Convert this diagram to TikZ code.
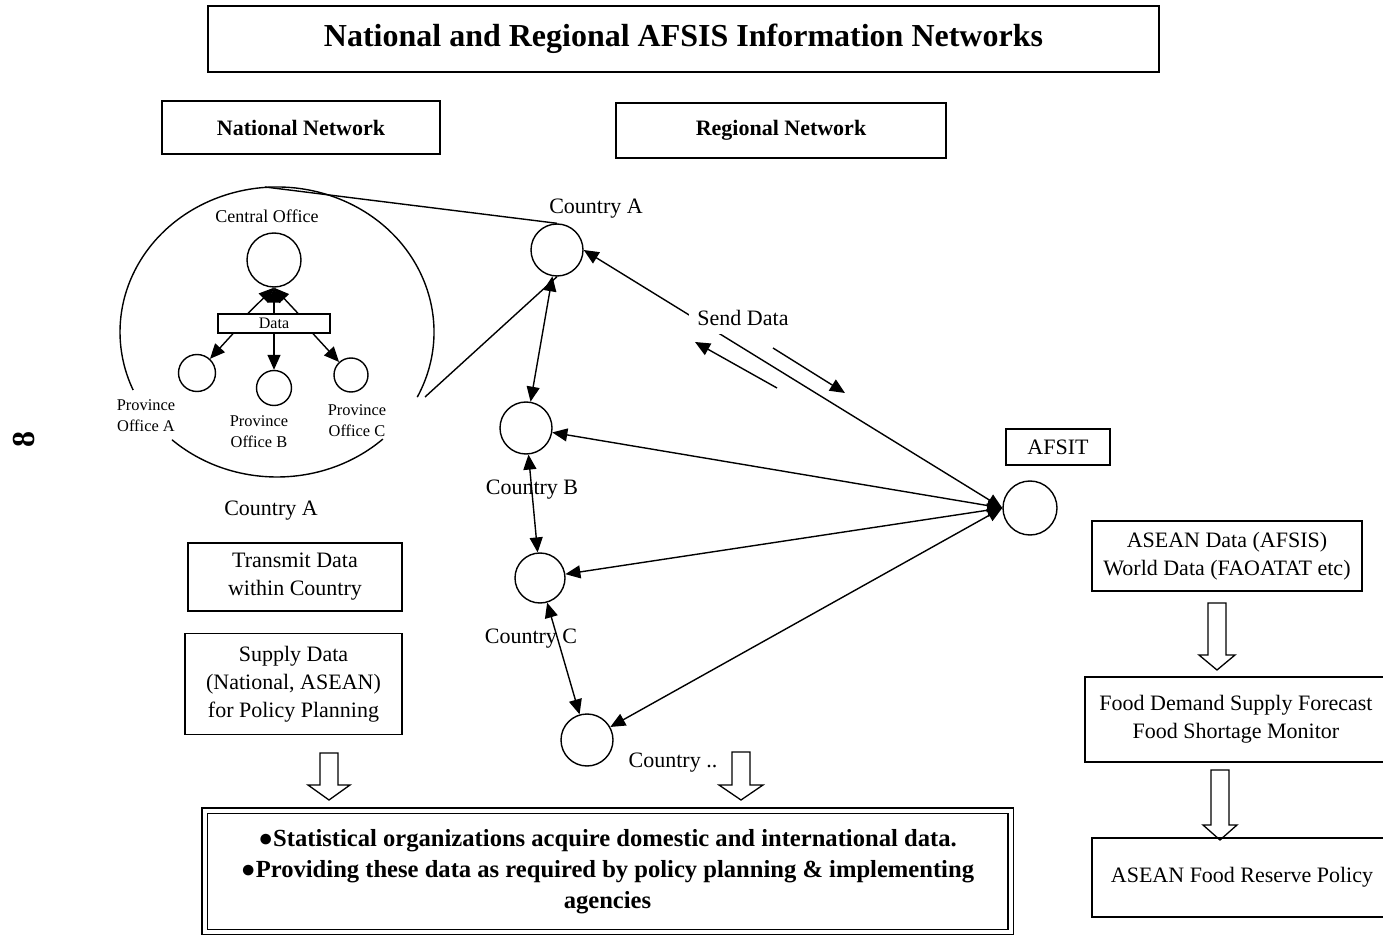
\documentclass[tikz,border=0pt]{standalone}
\usepackage{fontspec}
\setmainfont{Liberation Serif}
\usetikzlibrary{arrows.meta}
\tikzset{
	headbox/.style={draw, line width=1pt, inner sep=0pt,
		font=\fontsize{11}{14}\selectfont\bfseries},
	infobox/.style={draw, line width=0.65pt, align=center, inner sep=0pt,
		font=\fontsize{11}{14}\selectfont},
	office/.style={draw, circle, line width=0.7pt, inner sep=0pt},
	lbl/.style={inner sep=0pt, font=\fontsize{11}{14}\selectfont},
	provlbl/.style={align=center, inner sep=0pt,
		font=\fontsize{8.2}{10.5}\selectfont},
	arr/.style={line width=0.7pt, -{Triangle[length=7.5pt,width=6.5pt]}},
	biarr/.style={line width=0.7pt,
		{Triangle[length=7.5pt,width=6.5pt]}-{Triangle[length=7.5pt,width=6.5pt]}},
	pics/hollow/.style 2 args={code={
		\draw[line width=0.65pt, fill=white] (-9,0) -- (-9,-#1) -- (-#2,-#1)
		-- (0,-#1-15) -- (#2,-#1) -- (9,-#1) -- (9,0) -- cycle;}}
}

\begin{document}
\begin{tikzpicture}[x=0.5pt, y=0.5pt]
	\path[use as bounding box, clip] (0,0) rectangle (1383,-936);

	\node[rotate=90, font=\fontsize{16}{19}\selectfont\bfseries] (pageno) at (24,-440) {8};

	\node[headbox, font=\fontsize{16}{19}\selectfont\bfseries, minimum width=475.5pt,
		minimum height=33pt] (title) at (683.5,-39) {National and Regional AFSIS Information Networks};
	\node[headbox, minimum width=139pt, minimum height=26.5pt] (natnet) at (301,-127.5) {National Network};
	\node[headbox, minimum width=165pt, minimum height=27.5pt] (regnet) at (781,-130.5) {Regional Network};

	% national network
	\draw[line width=0.7pt] (277,-332) ++(-26.7:157 and 145)
		arc[start angle=-26.7, end angle=203.6, x radius=157, y radius=145];
	\draw[line width=0.7pt] (277,-332) ++(228:157 and 145)
		arc[start angle=228, end angle=312.4, x radius=157, y radius=145];
	\node[lbl, font=\fontsize{9}{11}\selectfont] (cenlbl) at (267,-216) {Central Office};
	\node[office, minimum size=27pt] (cen) at (274,-260) {};
	\node[draw, line width=0.65pt, minimum width=56pt, minimum height=9.5pt, inner sep=0pt,
		font=\fontsize{8}{9}\selectfont] (dat) at (274,-323.5) {Data};
	\node[office, minimum size=18.5pt] (pa) at (197,-373) {};
	\node[office, minimum size=17.5pt] (pb) at (274,-388) {};
	\node[office, minimum size=17pt] (pc) at (351,-375) {};
	\node[provlbl] (palbl) at (146,-416) {Province\\Office A};
	\node[provlbl] (pblbl) at (259,-432) {Province\\Office B};
	\node[provlbl] (pclbl) at (357,-421) {Province\\Office C};
	\draw[arr] ([xshift=-13pt]dat.north) -- (cen.south);
	\draw[arr] (dat.north) -- (cen.south);
	\draw[arr] ([xshift=12pt]dat.north) -- (cen.south);
	\draw[arr] ([xshift=-20.5pt]dat.south) -- (pa);
	\draw[arr] (dat.south) -- (pb);
	\draw[arr] ([xshift=19.5pt]dat.south) -- (pc);

	\node[lbl] (ctrylbl) at (271,-511) {Country A};
	\node[infobox, minimum width=107pt, minimum height=34pt] (trans) at (295,-577)
		{Transmit Data\\within Country};
	\node[infobox, minimum width=108.5pt, minimum height=50.5pt] (supply) at (293.5,-684)
		{Supply Data\\(National, ASEAN)\\for Policy Planning};
	\pic at (329,-753) {hollow={32}{21}};

	% regional network
	\node[office, minimum size=26pt] (ca) at (557,-250) {};
	\node[office, minimum size=26pt] (cb) at (526,-428) {};
	\node[office, minimum size=25pt] (cc) at (540,-578) {};
	\node[office, minimum size=26pt] (cd) at (587,-740) {};
	\node[office, minimum size=27pt] (afsit) at (1030,-508) {};
	\node[lbl] (calbl) at (596,-209) {Country A};
	\node[lbl] (cblbl) at (532,-490) {Country B};
	\node[lbl] (cclbl) at (531,-639) {Country C};
	\node[lbl] (cdlbl) at (673,-763) {Country ..};
	\node[draw, line width=0.65pt, minimum width=52pt, minimum height=18pt, lbl] (afsitlbl)
		at (1058,-447) {AFSIT};

	\coordinate (ringtop) at (265,-187);
	\coordinate (ringlow) at (425,-397);
	\draw[line width=0.7pt] (ringtop) -- (ca.north);
	\draw[line width=0.7pt] (ringlow) -- (ca.south);
	\draw[biarr] (ca) -- (cb);
	\draw[biarr] (cb) -- (cc);
	\draw[biarr] (cc) -- (cd);
	\draw[biarr] (afsit.west) -- (ca.east);
	\draw[biarr] (afsit.west) -- (cb);
	\draw[biarr] (afsit.west) -- (cc);
	\draw[biarr] (afsit.west) -- (cd);
	\node[lbl, fill=white, inner sep=4pt] (send) at (743,-318) {Send Data};
	\coordinate (backtail) at (777,-388);
	\coordinate (backtip) at (695,-342);
	\coordinate (fwdtail) at (773,-348);
	\coordinate (fwdtip) at (845,-393);
	\draw[arr] (backtail) -- (backtip);
	\draw[arr] (fwdtail) -- (fwdtip);
	\pic at (741,-752) {hollow={33}{22}};

	\node[draw, double, double distance=2pt, line width=0.7pt, minimum width=403pt,
		minimum height=60.75pt, align=center, font=\fontsize{12.3}{15.5}\selectfont\bfseries]
		(summary) at (607.5,-871.25)
		{●Statistical organizations acquire domestic and international data.\\
		●Providing these data as required by policy planning \& implementing\\
		agencies};

	% AFSIT output chain
	\node[infobox, minimum width=135pt, minimum height=35pt] (asean) at (1227,-556)
		{ASEAN Data (AFSIS)\\World Data (FAOATAT etc)};
	\pic at (1217,-603) {hollow={52}{18}};
	\node[infobox, minimum width=151pt, minimum height=42.5pt] (fcast) at (1236,-719.5)
		{Food Demand Supply Forecast\\Food Shortage Monitor};
	\pic at (1220,-770) {hollow={55}{17}};
	\node[infobox, minimum width=150pt, minimum height=39.5pt] (policy) at (1242,-877.5)
		{ASEAN Food Reserve Policy};

\end{tikzpicture}
\end{document}
